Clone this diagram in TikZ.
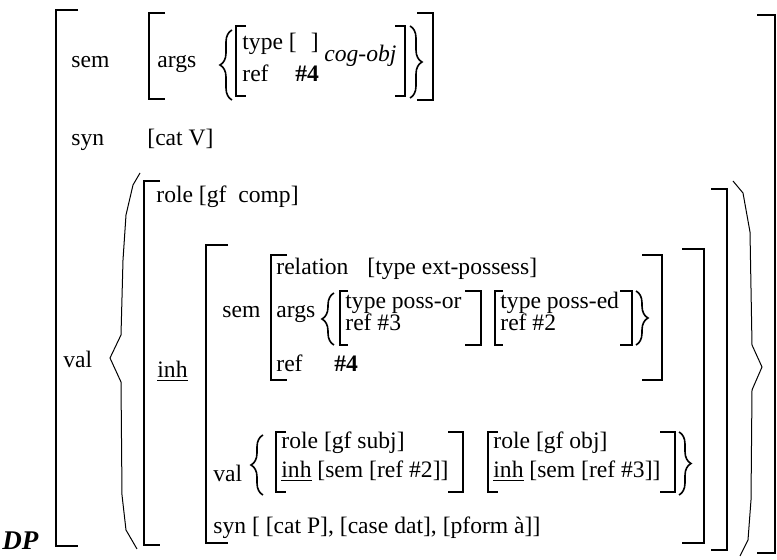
\documentclass[tikz,border=0pt]{standalone}
\usepackage{fontspec}
\setmainfont{Liberation Serif}
\usetikzlibrary{decorations.pathreplacing}
\def\avmopen(#1:#2:#3:#4){\draw[avm] (#1+#4,#2) -- (#1,#2) -- (#1,#3) -- (#1+#4,#3);}
\def\avmclose(#1:#2:#3:#4){\draw[avm] (#1-#4,#2) -- (#1,#2) -- (#1,#3) -- (#1-#4,#3);}
\tikzset{
  avm/.style={line width=1.1pt},
  curly/.style={line width=0.8pt, decorate, decoration={brace, amplitude=#1}},
  curly/.default=6pt,
  paren/.style={line width=0.5pt},
  lbl/.style={anchor=base west, inner sep=0pt, font=\fontsize{11.8}{14}\selectfont},
}
\begin{document}
\begin{tikzpicture}[x=0.5pt, y=-0.5pt]
			\useasboundingbox (0,0) rectangle (777,560);
			%%%%% outer matrix %%%%%
			\avmopen(56:10:546:22)
			\avmclose(775:15:553:18)
			\node[lbl, font=\fontsize{13.5}{16}\selectfont\bfseries\itshape] (dp) at (2,550) {DP};
			
			%%%%% sem %%%%%
			\node[lbl] (sem) at (71,68) {sem};
			\avmopen(149:13:99:16)
			\node[lbl] (args) at (157,68) {args};
			\draw[curly] (232,100) -- (232,30);
			\avmopen(236:26:96:10)
			\node[lbl] (type) at (242,50) {type [\hspace{0.6em}]};
			\node[lbl, font=\fontsize{11.8}{14}\selectfont\itshape] (cogobj) at (324,62) {cog-obj};
			\node[lbl] (ref) at (242,82) {ref};
			\node[lbl, font=\fontsize{11.8}{14}\selectfont\bfseries] (refval) at (295,82) {\#4};
			\avmclose(405:26:96:10)
			\draw[curly] (410,26) -- (410,98);
			\avmclose(433:13:100:16)
			
			%%%%% syn %%%%%
			\node[lbl] (syn) at (71,146) {syn};
			\node[lbl] (cat) at (147,146) {[cat V]};
			
			%%%%% val %%%%%
			\node[lbl] (val) at (63,368) {val};
			\draw[paren] (140,173) -- (133,185) -- (126,215) -- (123,260) -- (121,335) -- (110,358) -- (121,382) -- (122,495) -- (126,530) -- (137,549);
			\draw[paren] (733,181) -- (743,193) -- (750,232) -- (752,345) -- (762,367) -- (752,390) -- (751,500) -- (748,540) -- (740,556);
			\avmopen(144:181:545:16)
			\avmclose(727:189:550:16)
			\node[lbl] (role) at (156,203) {role [gf~~comp]};
			\node[lbl] (inh) at (157,378) {\underline{inh}};
			\avmopen(206:245:543:22)
			\avmclose(704:249:543:22)
			
			% inh sem
			\node[lbl] (isem) at (222,318) {sem};
			\avmopen(271:255:380:16)
			\avmclose(662:255:380:20)
			\node[lbl] (relation) at (276,275) {relation};
			\node[lbl] (reltype) at (367,275) {[type ext-possess]};
			\node[lbl] (iargs) at (276,318) {args};
			\draw[curly] (334,345) -- (334,293);
			\avmopen(340:291:345:8)
			\node[lbl] (possor) at (345,309) {type poss-or};
			\node[lbl] (refthree) at (345,331) {ref \#3};
			\avmclose(481:291:345:16)
			\avmopen(495:291:345:8)
			\node[lbl] (possed) at (500,309) {type poss-ed};
			\node[lbl] (reftwo) at (500,331) {ref \#2};
			\avmclose(632:291:345:12)
			\draw[curly] (636,291) -- (636,345);
			\node[lbl] (iref) at (276,372) {ref};
			\node[lbl, font=\fontsize{11.8}{14}\selectfont\bfseries] (irefval) at (334,372) {\#4};
			
			% inh val
			\node[lbl] (ival) at (213,482) {val};
			\draw[curly] (263,495) -- (263,435);
			\avmopen(276:432:492:10)
			\node[lbl] (subj) at (281,449) {role [gf subj]};
			\node[lbl] (subjinh) at (281,478) {\underline{inh} [sem [ref \#2]]};
			\avmclose(463:432:492:15)
			\avmopen(488:432:492:10)
			\node[lbl] (obj) at (493,449) {role [gf obj]};
			\node[lbl] (objinh) at (493,478) {\underline{inh} [sem [ref \#3]]};
			\avmclose(675:432:492:15)
			\draw[curly] (679,432) -- (679,495);
			
			% inh syn
			\node[lbl] (isyn) at (213,534) {syn [ [cat P], [case dat], [pform à]]};
			
		\end{tikzpicture}
\end{document}
